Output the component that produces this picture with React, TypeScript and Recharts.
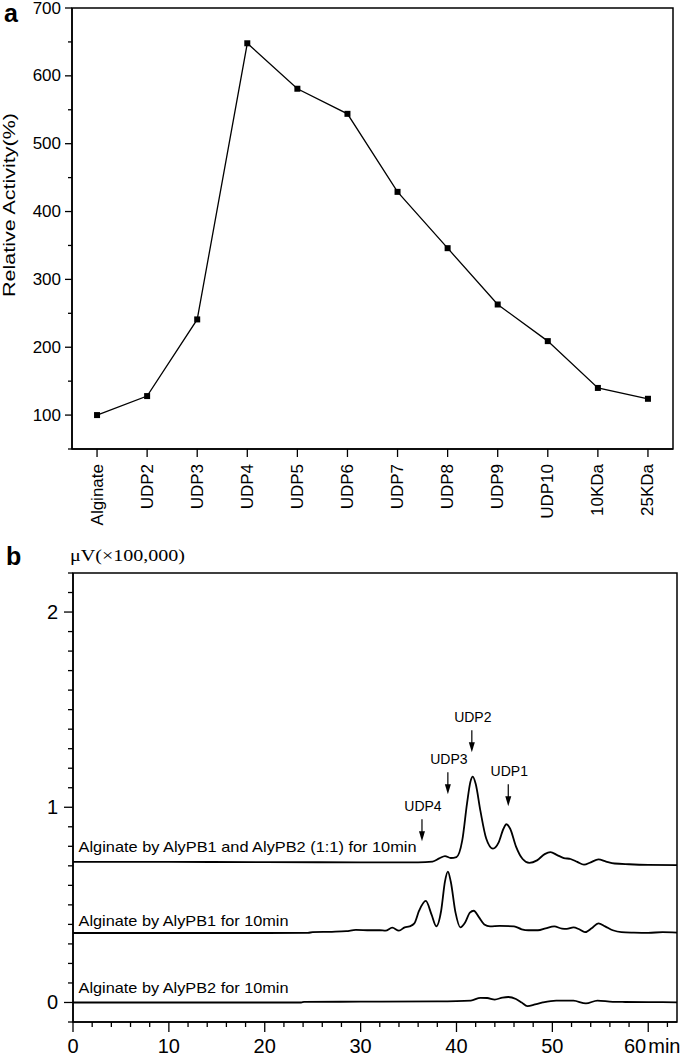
import { LineChart, Line, XAxis, YAxis, ReferenceDot, ReferenceArea } from 'recharts';

const FONT = '"Liberation Sans", Arial, sans-serif';

// panel a: relative activity by substrate
const CATEGORIES = ['Alginate', 'UDP2', 'UDP3', 'UDP4', 'UDP5', 'UDP6', 'UDP7', 'UDP8', 'UDP9', 'UDP10', '10KDa', '25KDa'];
const ACTIVITY = [100, 128, 241, 648, 581, 544, 429, 346, 263, 209, 140, 124];
const ACTIVITY_TICKS = [50, 100, 150, 200, 250, 300, 350, 400, 450, 500, 550, 600, 650, 700];
const ACTIVITY_LABELED = [100, 200, 300, 400, 500, 600, 700];

// panel b: chromatograms (minutes, signal x100,000 uV)
const MIX_TIMES = [0, 10, 20, 30, 36, 37.5, 38.2, 38.8, 39.4, 40.0, 40.6, 41.1, 41.45, 41.7, 42.0, 42.5, 43.1, 43.8, 44.4, 44.9, 45.2, 45.6, 46.2, 46.9, 47.6, 48.4, 49.2, 49.8, 50.5, 51.2, 51.9, 52.6, 53.3, 54.0, 54.8, 55.6, 56.5, 58, 60, 63];
const MIX_VALUES = [0.72, 0.72, 0.719, 0.718, 0.718, 0.722, 0.738, 0.75, 0.74, 0.745, 0.83, 1.02, 1.13, 1.157, 1.12, 0.98, 0.84, 0.788, 0.82, 0.89, 0.913, 0.89, 0.8, 0.735, 0.715, 0.728, 0.76, 0.77, 0.755, 0.74, 0.735, 0.72, 0.706, 0.718, 0.733, 0.722, 0.712, 0.708, 0.705, 0.704];

const PB1_TIMES = [0, 10, 20, 24.5, 25, 27, 28.5, 29.5, 31, 32, 32.6, 33.3, 34.0, 34.6, 35.1, 35.6, 36.1, 36.8, 37.4, 37.9, 38.4, 38.8, 39.1, 39.4, 39.9, 40.4, 40.9, 41.4, 41.8, 42.3, 42.9, 43.5, 44.5, 46, 46.8, 47.5, 48.5, 49.3, 50.2, 51.0, 51.5, 52.2, 52.8, 53.4, 54.1, 54.8, 55.5, 56.3, 57.2, 58.5, 60, 61.5, 63];
const PB1_VALUES = [0.356, 0.356, 0.356, 0.357, 0.36, 0.362, 0.365, 0.372, 0.37, 0.37, 0.368, 0.383, 0.368, 0.385, 0.39, 0.405, 0.47, 0.52, 0.45, 0.39, 0.47, 0.62, 0.67, 0.62, 0.46, 0.385, 0.41, 0.46, 0.47, 0.44, 0.4, 0.39, 0.392, 0.39, 0.375, 0.37, 0.37, 0.38, 0.39, 0.378, 0.377, 0.385, 0.375, 0.36, 0.38, 0.405, 0.39, 0.37, 0.36, 0.358, 0.357, 0.36, 0.358];

const PB2_TIMES = [0, 10, 20, 23.8, 24.1, 30, 38, 41.5, 42.5, 43.2, 44.0, 44.8, 45.4, 46.2, 46.8, 47.4, 48.2, 49.0, 50.4, 52.2, 53.5, 54.7, 56.3, 60, 63];
const PB2_VALUES = [0, 0, 0, 0, 0.003, 0.004, 0.006, 0.01, 0.024, 0.023, 0.015, 0.025, 0.028, 0.018, 0, -0.019, -0.01, 0, 0.01, 0.009, -0.005, 0.01, 0.003, 0.002, 0.001];

const TRACE_LABELS = ['Alginate by AlyPB1 and AlyPB2 (1:1) for 10min', 'Alginate by AlyPB1 for 10min', 'Alginate by AlyPB2 for 10min'];
const TRACE_LABEL_LEVELS = [0.769, 0.39, 0.046];
const TRACE_LABEL_WIDTHS = [338, 210, 210];

const PEAK_LABELS = ['UDP4', 'UDP3', 'UDP2', 'UDP1'];
const PEAK_TIMES = [36.4, 39.1, 41.6, 45.4];
const PEAK_TIPS = [0.826, 1.067, 1.282, 1.005];

const SIGNAL_TICKS = [-0.1, 0, 0.1, 0.2, 0.3, 0.4, 0.5, 0.6, 0.7, 0.8, 0.9, 1, 1.1, 1.2, 1.3, 1.4, 1.5, 1.6, 1.7, 1.8, 1.9, 2, 2.1, 2.2];
const SIGNAL_LABELED = [0, 1, 2];
const TIME_TICKS = [0, 2, 4, 6, 8, 10, 12, 14, 16, 18, 20, 22, 24, 26, 28, 30, 32, 34, 36, 38, 40, 42, 44, 46, 48, 50, 52, 54, 56, 58, 60, 62];

// categories sit on integer slots so the frame can span half a slot either side
const activityData = CATEGORIES.map((name, i) => ({ name, slot: i, activity: ACTIVITY[i] }));
const categorySlots = CATEGORIES.map((_, i) => i);
const toRows = (ts: number[], vs: number[]) => ts.map((t, i) => ({ t, v: vs[i] }));
const mixData = toRows(MIX_TIMES, MIX_VALUES);
const pb1Data = toRows(PB1_TIMES, PB1_VALUES);
const pb2Data = toRows(PB2_TIMES, PB2_VALUES);

function SquareDot(props: any) {
  const { cx, cy, index } = props;
  return <rect key={`sq-${index}`} x={cx - 3} y={cy - 3} width={6} height={6} fill="#000" />;
}

function ActivityTick({ x, y, payload }: any) {
  const major = ACTIVITY_LABELED.includes(payload.value);
  return (
    <g>
      <line x1={x} x2={x - (major ? 7 : 4)} y1={y} y2={y} stroke="#000" strokeWidth={1.3} />
      {major && (
        <text x={x - 11} y={y} textAnchor="end" dominantBaseline="central" fontSize={17} fontFamily={FONT} fill="#000">
          {payload.value}
        </text>
      )}
    </g>
  );
}

function CategoryTick({ x, y, payload }: any) {
  return (
    <g>
      <line x1={x} x2={x} y1={y} y2={y + 8} stroke="#000" strokeWidth={1.3} />
      <text
        x={x}
        y={y + 15}
        transform={`rotate(-90 ${x} ${y + 15})`}
        textAnchor="end"
        dominantBaseline="central"
        fontSize={17}
        fontFamily={FONT}
        fill="#000"
      >
        {CATEGORIES[payload.value]}
      </text>
    </g>
  );
}

function SignalTick({ x, y, payload }: any) {
  const major = SIGNAL_LABELED.includes(payload.value);
  return (
    <g>
      <line x1={x} x2={x - (major ? 9 : 5)} y1={y} y2={y} stroke="#000" strokeWidth={1.3} />
      {major && (
        <text x={x - 15} y={y} textAnchor="end" dominantBaseline="central" fontSize={20} fontFamily={FONT} fill="#000">
          {payload.value}
        </text>
      )}
    </g>
  );
}

function TimeTick({ x, y, payload }: any) {
  const v = payload.value;
  const major = v % 10 === 0;
  return (
    <g>
      <line x1={x} x2={x} y1={y} y2={y + (major ? 10 : 5)} stroke="#000" strokeWidth={1.3} />
      {major && v !== 60 && (
        <text x={x} y={y + 31} textAnchor="middle" fontSize={20} fontFamily={FONT} fill="#000">
          {v}
        </text>
      )}
      {v === 60 && (
        <g>
          <text x={x - 2} y={y + 31} textAnchor="end" fontSize={20} fontFamily={FONT} fill="#000">60</text>
          <text x={x} y={y + 31} textAnchor="start" fontSize={20} fontFamily={FONT} fill="#000">min</text>
        </g>
      )}
    </g>
  );
}

function PeakArrow({ cx, cy, text }: any) {
  return (
    <g>
      <line x1={cx} x2={cx} y1={cy - 22} y2={cy - 9} stroke="#000" strokeWidth={1.2} />
      <path d={`M${cx - 3},${cy - 10} L${cx + 3},${cy - 10} L${cx},${cy} Z`} fill="#000" />
      <text x={cx + 1} y={cy - 35} textAnchor="middle" dominantBaseline="central" fontSize={14} fontFamily={FONT} fill="#000">
        {text}
      </text>
    </g>
  );
}

function TraceLabel({ cx, cy, text, width }: any) {
  return (
    <text x={cx} y={cy} fontSize={15} fontFamily={FONT} fill="#000" textLength={width} lengthAdjust="spacingAndGlyphs">
      {text}
    </text>
  );
}

function ActivityPanel() {
  return (
    <LineChart width={685} height={545} data={activityData} margin={{ top: 8, right: 12, bottom: 0, left: 0 }}>
      <XAxis
        type="number"
        dataKey="slot"
        domain={[-0.5, CATEGORIES.length - 0.5]}
        ticks={categorySlots}
        height={96}
        axisLine={{ stroke: '#000', strokeWidth: 1.5 }}
        tickLine={false}
        tickSize={0}
        tickMargin={0}
        interval={0}
        tick={<CategoryTick />}
      />
      <YAxis
        type="number"
        domain={[50, 700]}
        ticks={ACTIVITY_TICKS}
        width={72}
        interval={0}
        axisLine={{ stroke: '#000', strokeWidth: 1.5 }}
        tickLine={false}
        tickSize={0}
        tickMargin={0}
        tick={<ActivityTick />}
      />
      <ReferenceArea
        x1={-0.5}
        x2={CATEGORIES.length - 0.5}
        y1={50}
        y2={700}
        fill="none"
        stroke="#000"
        strokeWidth={1.5}
        ifOverflow="visible"
      />
      <Line type="linear" dataKey="activity" stroke="#000" strokeWidth={1.3} dot={SquareDot} isAnimationActive={false} />
    </LineChart>
  );
}

function ChromatogramPanel() {
  return (
    <LineChart width={685} height={511} margin={{ top: 28, right: 8, bottom: 0, left: 0 }}>
      <XAxis
        type="number"
        dataKey="t"
        domain={[0, 63]}
        ticks={TIME_TICKS}
        interval={0}
        height={34}
        allowDataOverflow
        axisLine={{ stroke: '#000', strokeWidth: 1.5 }}
        tickLine={false}
        tickSize={0}
        tickMargin={0}
        tick={<TimeTick />}
      />
      <YAxis
        type="number"
        domain={[-0.1, 2.2]}
        ticks={SIGNAL_TICKS}
        interval={0}
        width={73}
        allowDataOverflow
        axisLine={{ stroke: '#000', strokeWidth: 1.5 }}
        tickLine={false}
        tickSize={0}
        tickMargin={0}
        tick={<SignalTick />}
      />
      <ReferenceArea x1={0} x2={63} y1={-0.1} y2={2.2} fill="none" stroke="#000" strokeWidth={1.5} ifOverflow="visible" />
      <Line data={mixData} type="monotone" dataKey="v" stroke="#000" strokeWidth={1.8} dot={false} isAnimationActive={false} />
      <Line data={pb1Data} type="monotone" dataKey="v" stroke="#000" strokeWidth={1.8} dot={false} isAnimationActive={false} />
      <Line data={pb2Data} type="monotone" dataKey="v" stroke="#000" strokeWidth={1.8} dot={false} isAnimationActive={false} />
      {TRACE_LABELS.map((label, i) => (
        <ReferenceDot
          key={label}
          x={0.58}
          y={TRACE_LABEL_LEVELS[i]}
          r={0}
          shape={(p: any) => <TraceLabel cx={p.cx} cy={p.cy} text={label} width={TRACE_LABEL_WIDTHS[i]} />}
        />
      ))}
      {PEAK_LABELS.map((label, i) => (
        <ReferenceDot
          key={label}
          x={PEAK_TIMES[i]}
          y={PEAK_TIPS[i]}
          r={0}
          shape={(p: any) => <PeakArrow cx={p.cx} cy={p.cy} text={label} />}
        />
      ))}
    </LineChart>
  );
}

export default function App() {
  return (
    <div style={{ position: 'absolute', left: 0, top: 0, width: 685, height: 1056, background: '#fff' }}>
      <ActivityPanel />
      <ChromatogramPanel />
      <svg width={685} height={1056} style={{ position: 'absolute', left: 0, top: 0, pointerEvents: 'none' }}>
        <text x={4} y={22} fontSize={25} fontWeight="bold" fontFamily={FONT}>a</text>
        <text
          x={9}
          y={205}
          transform="rotate(-90 9 205)"
          textAnchor="middle"
          dominantBaseline="central"
          fontSize={17}
          fontFamily={FONT}
          textLength={184}
          lengthAdjust="spacingAndGlyphs"
        >
          Relative Activity(%)
        </text>
        <text x={6} y={565} fontSize={25} fontWeight="bold" fontFamily={FONT}>b</text>
        <text x={70} y={561} fontSize={17} fontFamily='"Liberation Serif", "Times New Roman", serif' textLength={115} lengthAdjust="spacingAndGlyphs">
          μV(×100,000)
        </text>
      </svg>
    </div>
  );
}
